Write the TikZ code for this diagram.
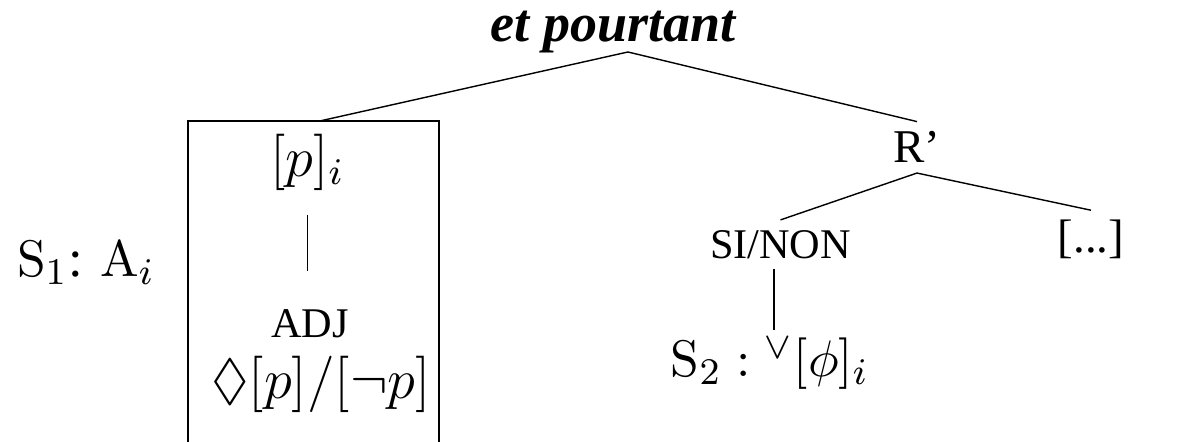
\documentclass[tikz,border=0pt]{standalone}
\usepackage[no-math]{fontspec}
\setmainfont{Liberation Serif}
\usepackage{amsmath,amssymb}
\usetikzlibrary{calc}

\begin{document}
\begin{tikzpicture}[line width=.3pt,
  lbl/.style={inner sep=2pt,anchor=base},
  cat/.style={lbl,font=\small},
  form/.style={lbl,font=\fontsize{12}{14}\selectfont}]
  \useasboundingbox (0,0) rectangle (8.916,3.306);
  \node[lbl,inner sep=0pt,font=\fontsize{11.5}{14}\selectfont\bfseries\itshape] (conn) at (4.585,2.992) {et pourtant};
  \coordinate (apex) at (4.697,2.917);
  \coordinate (boxtop) at (2.393,2.401);
  \draw (1.406,0) |- (3.283,2.401) -- (3.283,0);
  \node[lbl,font=\fontsize{11.2}{14}\selectfont] (s1) at (0.643,1.234) {$\mathrm{S}_1$: $\mathrm{A}_i$};
  \node[form] (p) at (2.300,1.986) {$[p]_i$};
  \node[cat] (adj) at (2.319,0.785) {ADJ};
  \node[form] (poss) at (2.401,0.322) {$\Diamond[p]/[\neg p]$};
  \node[lbl] (rp) at (6.859,2.087) {R’};
  \node[cat] (sinon) at (5.838,1.376) {SI/NON};
  \node[lbl] (etc) at (8.160,1.414) {[...]};
  \node[lbl,font=\fontsize{10.8}{13}\selectfont] (s2) at (5.759,0.486) {$\mathrm{S}_2 : {}^\vee[\phi]_i$};
  \coordinate (vee) at (5.789,0.838);
  \draw (apex) -- (boxtop);
  \draw (apex) -- (rp.north);
  \draw[shorten <=3pt,shorten >=6pt] (p.south) -- (p.south |- adj.north);
  \draw (rp.south) -- (sinon.north);
  \draw (rp.south) -- (etc.north);
  \draw (sinon.south -| vee) -- (vee);
\end{tikzpicture}
\end{document}
